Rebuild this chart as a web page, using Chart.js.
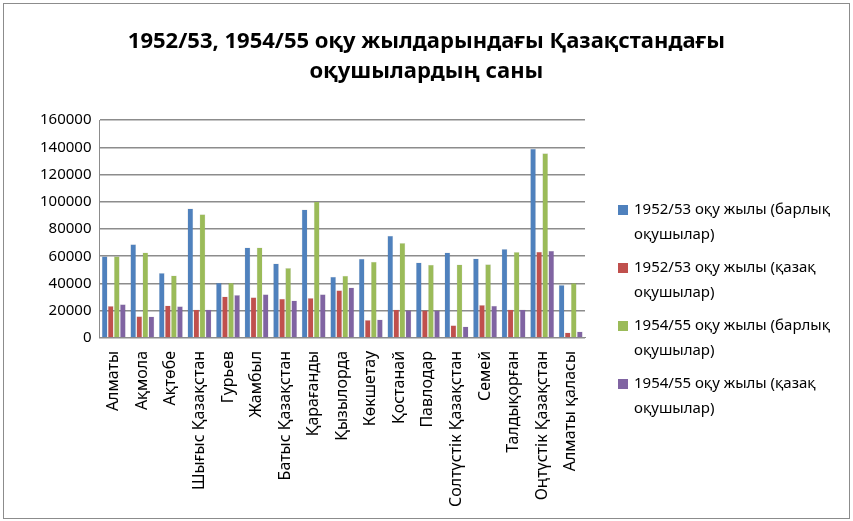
<!DOCTYPE html>
<html>
<head>
<meta charset="utf-8">
<script src="https://cdn.jsdelivr.net/npm/chart.js@4.4.0/dist/chart.umd.min.js"></script>
<style>
  html, body { margin: 0; padding: 0; background: #fff; }
  #wrap { position: absolute; left: 3px; top: 3px; width: 845px; height: 514px; border: 1px solid #8c8c8c; }
  canvas { display: block; }
</style>
</head>
<body>
<div id="wrap"><canvas id="chart" width="845" height="514"></canvas></div>
<script>
const regions = [
  "Алматы", "Ақмола", "Ақтөбе", "Шығыс Қазақстан", "Гурьев", "Жамбыл",
  "Батыс Қазақстан", "Қарағанды", "Қызылорда", "Көкшетау", "Қостанай",
  "Павлодар", "Солтүстік Қазақстан", "Семей", "Талдықорған",
  "Оңтүстік Қазақстан", "Алматы қаласы"
];
const total1952 = [60000, 68800, 47700, 95000, 40600, 66400, 54700, 94300, 44900, 58100, 75000, 55400, 62800, 58300, 65400, 139000, 38900];
const kazakh1952 = [23400, 16000, 23900, 20800, 30500, 29800, 28700, 29400, 35100, 13100, 20800, 20300, 9300, 24100, 20800, 63300, 4000];
const total1954 = [60000, 62800, 45900, 90800, 40600, 66400, 51300, 100300, 45600, 55900, 69700, 53800, 54000, 54200, 63100, 135700, 40400];
const kazakh1954 = [24800, 15700, 23200, 20800, 31500, 32000, 27500, 32000, 37000, 13600, 20300, 20100, 8300, 23600, 20800, 64000, 4700];
const seriesNames = [
  ["1952/53 оқу жылы (барлық", "оқушылар)"],
  ["1952/53 оқу жылы (қазақ", "оқушылар)"],
  ["1954/55 оқу жылы (барлық", "оқушылар)"],
  ["1954/55 оқу жылы (қазақ", "оқушылар)"]
];
const colors = ["#4F81BD", "#C0504D", "#9BBB59", "#8064A2"];
const yTicks = [0, 20000, 40000, 60000, 80000, 100000, 120000, 140000, 160000];

const FONT = "'Noto Sans', sans-serif";

// легенда справа, текст в две строки
const sideLegend = {
  id: "sideLegend",
  afterDraw(chart) {
    const ctx = chart.ctx;
    ctx.save();
    ctx.font = "15px " + FONT;
    ctx.textBaseline = "middle";
    chart.data.datasets.forEach((ds, i) => {
      const y = 206 + i * 58;
      ctx.fillStyle = ds.backgroundColor;
      ctx.fillRect(614, y - 5, 10, 10);
      ctx.fillStyle = "#000";
      ds.legendLines.forEach((line, j) => {
        ctx.fillText(line, 630, y + j * 25);
      });
    });
    ctx.restore();
  }
};

const ctx = document.getElementById("chart").getContext("2d");
new Chart(ctx, {
  type: "bar",
  data: {
    labels: regions,
    datasets: [total1952, kazakh1952, total1954, kazakh1954].map((d, i) => ({
      label: seriesNames[i].join(" "),
      legendLines: seriesNames[i],
      data: d,
      backgroundColor: colors[i],
      borderColor: "rgba(0,0,0,0.15)",
      borderWidth: 0.5,
      barPercentage: 0.96,
      categoryPercentage: 0.85
    }))
  },
  options: {
    responsive: false,
    animation: false,
    layout: { padding: { left: 0, right: 0, top: 0, bottom: 6 } },
    scales: {
      x: {
        grid: { display: false },
        border: { color: "#8c8c8c" },
        ticks: {
          color: "#000",
          font: { family: FONT, size: 16 },
          minRotation: 90,
          maxRotation: 90,
          autoSkip: false,
          padding: 5
        }
      },
      y: {
        min: 0,
        max: 160000,
        afterBuildTicks(scale) {
          scale.ticks = yTicks.map((v) => ({ value: v }));
        },
        afterFit(scale) {
          scale.width += 28;
        },
        grid: { color: "#8c8c8c", lineWidth: 1.5, drawTicks: false },
        border: { color: "#8c8c8c" },
        ticks: {
          color: "#000",
          font: { family: FONT, size: 15 },
          padding: 8,
          callback: (v) => String(v)
        }
      },
      // пустая ось справа — место под легенду
      side: {
        position: "right",
        min: 0,
        max: 1,
        grid: { display: false },
        border: { display: false },
        ticks: { display: false },
        afterFit(scale) {
          scale.width = 264;
        }
      }
    },
    plugins: {
      legend: { display: false },
      tooltip: { enabled: false },
      title: {
        display: true,
        text: ["1952/53, 1954/55 оқу жылдарындағы Қазақстандағы", "оқушылардың саны"],
        color: "#000",
        font: { family: FONT, size: 22, weight: "bold", lineHeight: 1.39 },
        padding: { top: 22, bottom: 33 }
      }
    }
  },
  plugins: [sideLegend]
});
</script>
</body>
</html>
